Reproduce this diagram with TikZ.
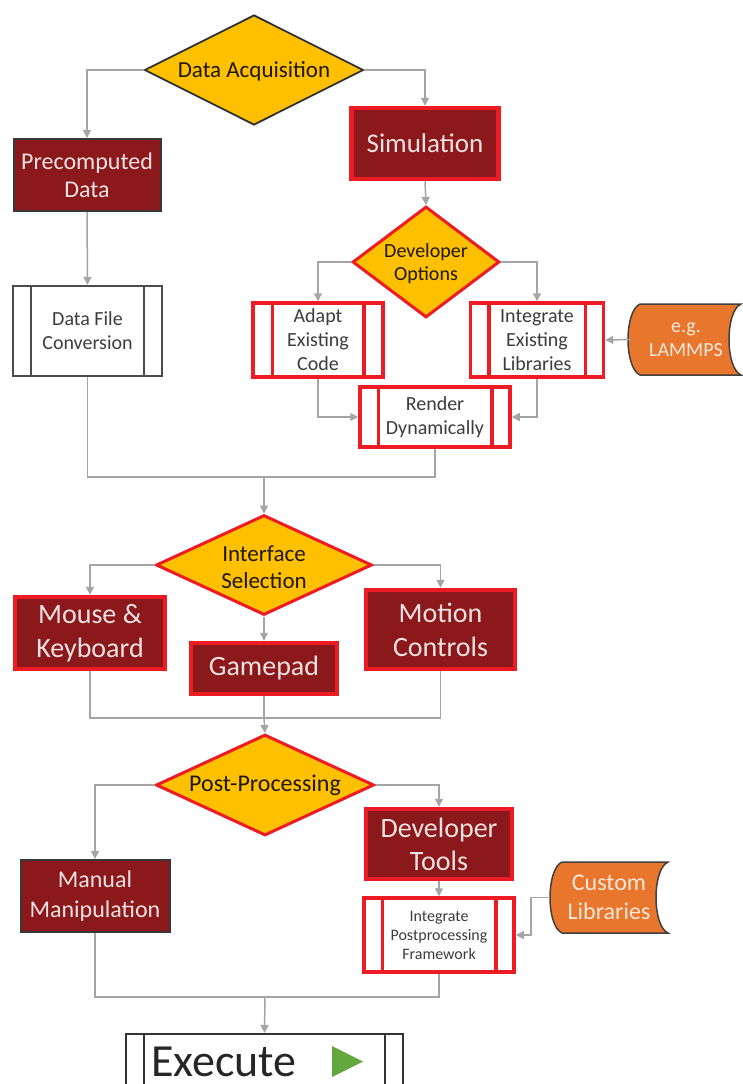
\documentclass[tikz,border=0pt]{standalone}
\usepackage{fontspec}
\setmainfont{Carlito}
\usetikzlibrary{shapes.geometric,arrows.meta}
\definecolor{dred}{RGB}{139,24,26}
\definecolor{bred}{RGB}{237,28,36}
\definecolor{gold}{RGB}{255,192,0}
\definecolor{orng}{RGB}{232,118,44}
\definecolor{conncol}{RGB}{165,165,165}
\definecolor{txtw}{RGB}{242,226,226}
\definecolor{txto}{RGB}{252,232,218}
\definecolor{txtd}{RGB}{30,24,6}
\definecolor{txtg}{RGB}{60,60,60}
\definecolor{playgreen}{RGB}{98,168,60}
\tikzset{
  conn/.style={draw=conncol, line width=1.5pt, -{Triangle[length=8pt,width=8pt]}},
  plainline/.style={draw=conncol, line width=1.5pt},
  darkbox/.style={rectangle, fill=dred, draw=black!78, line width=2pt, text=txtw, align=center, inner sep=0pt},
  redbox/.style={darkbox, draw=bred, line width=4.5pt},
  dia/.style={diamond, fill=gold, draw=bred, line width=3pt, inner sep=0pt},
  diatext/.style={text=txtd, align=center, inner sep=0pt},
  pbox/.style={rectangle, fill=white, draw=bred, line width=3.5pt, text=txtg, align=center, inner sep=0pt},
  pline/.style={draw=bred, line width=3.5pt},
  ghost/.style={rectangle, draw=none, align=center, inner sep=0pt, text=txto},
  storeline/.style={draw=black!75, line width=1.5pt, fill=orng},
}
\newcommand\innerlines[3]{%
  \draw[#3] ([xshift=#2pt]#1.north west) -- ([xshift=#2pt]#1.south west);
  \draw[#3] ([xshift=-#2pt]#1.north east) -- ([xshift=-#2pt]#1.south east);}
% stored data shape: x1 y1 x2 y2 c
\newcommand\storedshape[5]{%
  \path[storeline] (#1+#5,#2) -- (#3,#2)
    .. controls (#3-1.333*#5,#2+0.1*#4-0.1*#2) and (#3-1.333*#5,#4-0.1*#4+0.1*#2) .. (#3,#4)
    -- (#1+#5,#4)
    .. controls (#1-0.333*#5,#4-0.1*#4+0.1*#2) and (#1-0.333*#5,#2+0.1*#4-0.1*#2) .. (#1+#5,#2) -- cycle;}
\begin{document}
\begin{tikzpicture}[x=1pt,y=-1pt]
\useasboundingbox (0,0) rectangle (743,1084);
\fill[white] (0,0) rectangle (743,1084);
\clip (0,0) rectangle (743,1084);

% ---------- top section ----------
\node[dia, draw=black!80, line width=1.8pt, minimum width=219pt, minimum height=110pt] (da) at (254,70) {};
\node[diatext, font=\fontsize{23}{27}\selectfont] (dat) at (254,71) {Data Acquisition};

\node[darkbox, minimum width=147pt, minimum height=72pt, font=\fontsize{24}{28}\selectfont] (pre) at (87,175) {Precomputed\\Data};
\node[redbox, minimum width=147pt, minimum height=71pt, font=\fontsize{27}{31}\selectfont] (sim) at (425,143.5) {Simulation};

\node[dia, minimum width=147pt, minimum height=111pt] (dev) at (426,262) {};
\node[diatext, font=\fontsize{20}{23}\selectfont] (devt) at (426,264) {Developer\\Options};

\node[rectangle, fill=white, draw=black!70, line width=2.2pt, text=txtg, align=center, inner sep=0pt,
      minimum width=149pt, minimum height=90pt, font=\fontsize{20}{24}\selectfont] (dfc) at (87.5,331) {Data File\\Conversion};
\innerlines{dfc}{19}{draw=black!70, line width=2.2pt}

\node[pbox, minimum width=130pt, minimum height=74pt, font=\fontsize{20}{24}\selectfont] (adapt) at (318,340) {Adapt\\Existing\\Code};
\innerlines{adapt}{21}{pline}
\node[pbox, minimum width=133pt, minimum height=74pt, font=\fontsize{20}{24}\selectfont] (integ) at (537,340) {Integrate\\Existing\\Libraries};
\innerlines{integ}{20}{pline}

\storedshape{628}{304}{741}{375}{12}
\node[ghost, minimum width=110pt, minimum height=71pt, font=\fontsize{20}{24}\selectfont] (lam) at (686,339.5) {e.g.\\LAMMPS};

\node[pbox, minimum width=150pt, minimum height=60pt, font=\fontsize{20}{24}\selectfont] (render) at (435,417) {Render\\Dynamically};
\innerlines{render}{20}{pline}

\coordinate (j1) at (264,477);

% ---------- interface section ----------
\node[dia, minimum width=216pt, minimum height=100pt] (is) at (264,565) {};
\node[diatext, font=\fontsize{23}{27}\selectfont] (ist) at (264,567) {Interface\\Selection};

\node[redbox, minimum width=150pt, minimum height=72pt, font=\fontsize{28}{34}\selectfont] (mouse) at (90,633) {Mouse \&\\Keyboard};
\node[redbox, minimum width=146pt, minimum height=51pt, font=\fontsize{28}{34}\selectfont] (game) at (264,668.5) {Gamepad};
\node[redbox, minimum width=149pt, minimum height=79pt, font=\fontsize{28}{34}\selectfont] (motion) at (440.5,629.5) {Motion\\Controls};

\coordinate (j2) at (264,718);

% ---------- post-processing section ----------
\node[dia, minimum width=218pt, minimum height=101pt] (pp) at (265,785) {};
\node[diatext, font=\fontsize{24}{28}\selectfont] (ppt) at (265,785) {Post-Processing};

\node[darkbox, minimum width=149pt, minimum height=72pt, font=\fontsize{24}{30}\selectfont] (manual) at (95,896) {Manual\\Manipulation};
\node[redbox, minimum width=146pt, minimum height=70pt, font=\fontsize{28}{33}\selectfont] (tools) at (439,844) {Developer\\Tools};

\node[pbox, minimum width=150pt, minimum height=74pt, font=\fontsize{16}{19}\selectfont] (ipf) at (439,935) {Integrate\\Postprocessing\\Framework};
\innerlines{ipf}{20}{pline}

\storedshape{550}{862}{668}{933}{12}
\node[ghost, minimum width=118pt, minimum height=71pt, font=\fontsize{24}{29}\selectfont] (cust) at (609,897.5) {Custom\\Libraries};

\coordinate (j3) at (265,997);

% ---------- execute ----------
\node[rectangle, fill=white, draw=black!80, line width=2pt, minimum width=277pt, minimum height=76pt, inner sep=0pt] (exec) at (264.5,1072) {};
\innerlines{exec}{19}{draw=black!80, line width=2pt}
\node[anchor=base west, inner sep=0pt, text=black!85, font=\fontsize{46}{48}\selectfont] (exect) at (151,1076) {Execute};
\fill[playgreen] (332,1046) -- (363,1061.5) -- (332,1077) -- cycle;

% ---------- connectors ----------
\draw[conn] (da.west) -| (pre.north);
\draw[conn] (da.east) -| (sim.north);
\draw[conn] (sim.south) -- (dev.north);
\draw[conn] (pre.south) -- (dfc.north);
\draw[conn] (dev.west) -| (adapt.north);
\draw[conn] (dev.east) -| (integ.north);
\draw[conn] (lam.west) -- (integ.east);
\draw[conn] (adapt.south) |- (render.west);
\draw[conn] (integ.south) |- (render.east);
\draw[plainline] (dfc.south) |- (j1) -| (render.south);
\draw[conn] (j1) -- (is.north);

\draw[conn] (is.west) -| (mouse.north);
\draw[conn] (is.south) -- (game.north);
\draw[conn] (is.east) -| (motion.north);
\draw[plainline] (mouse.south) |- (j2) -| (motion.south);
\draw[plainline] (game.south) -- (j2);
\draw[conn] (j2) -- (pp.north);

\draw[conn] (pp.west) -| (manual.north);
\draw[conn] (pp.east) -| (tools.north);
\draw[conn] (tools.south) -- (ipf.north);
\draw[conn] (cust.west) -- ++(-19,0) |- (ipf.east);
\draw[plainline] (manual.south) |- (j3) -| (ipf.south);
\draw[conn] (j3) -- (exec.north);
\end{tikzpicture}
\end{document}
